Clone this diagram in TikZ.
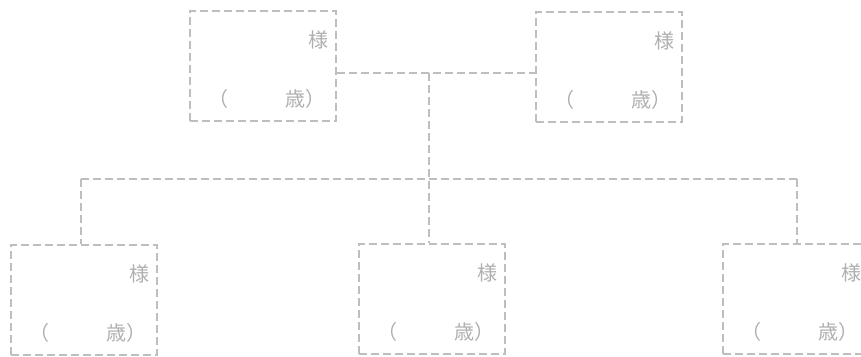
\documentclass[tikz,border=0pt]{standalone}
\usepackage{fontspec}
\setmainfont{Noto Sans CJK JP}
\usepackage{tikz}
\usetikzlibrary{positioning}
\definecolor{linegray}{RGB}{190,190,190}
\definecolor{textgray}{RGB}{175,175,175}
\tikzset{
  famtile/.style={draw=linegray, dash pattern=on 8pt off 4pt, line width=1.1pt,
    minimum width=146pt, minimum height=110pt, inner sep=0pt},
  famlink/.style={draw=linegray, dash pattern=on 8pt off 4pt, line width=1.1pt},
  famtext/.style={text=textgray, font=\fontsize{20pt}{20pt}\selectfont, inner sep=0pt}
}

\begin{document}
\begin{tikzpicture}[x=1pt, y=-1pt]
  \useasboundingbox (0,0) rectangle (861,356);

  % boxes: name / centre x / centre y
  \foreach \who/\cx/\cy in {father/263/66, mother/609/67, child1/84/300, child2/432/299, child3/796/299} {
    \node[famtile] (\who) at (\cx,\cy) {};
    \node[famtext, anchor=east] (\who-sama) at ([xshift=-8pt, yshift=-29pt]\who.north east) {様};
    \node[famtext, anchor=east] (\who-sai) at ([xshift=-11pt, yshift=-33pt]\who.east) {歳）};
    \node[famtext, anchor=west] (\who-open) at ([xshift=19pt, yshift=-33pt]\who.west) {（};
  }

  % junctions
  \coordinate (wed) at (429,73);
  \coordinate (bar) at (429,179);
  \coordinate (drop1) at (81,179);
  \coordinate (drop3) at (797,179);

  \draw[famlink] (father.east |- wed) -- (mother.west |- wed);
  \draw[famlink] (wed) -- (wed |- child2.north);
  \draw[famlink] (drop1) -- (drop3);
  \draw[famlink] (drop1) -- (drop1 |- child1.north);
  \draw[famlink] (drop3) -- (drop3 |- child3.north);
\end{tikzpicture}
\end{document}
